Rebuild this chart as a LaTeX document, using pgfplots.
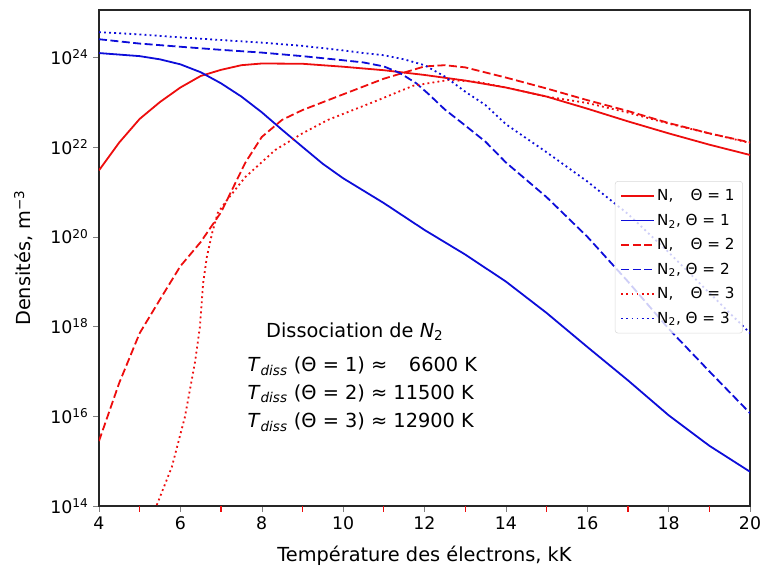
\documentclass[border=0pt]{standalone}
\usepackage{fontspec}
\setmainfont{DejaVu Sans}
\usepackage{pgfplots}
\pgfplotsset{compat=1.18}
\definecolor{mplred}{rgb}{0.93,0.05,0.05}
\definecolor{mplblue}{rgb}{0.05,0.05,0.85}
\begin{document}
\begin{tikzpicture}
\useasboundingbox (-74.25pt,-46.5pt) rectangle (498.75pt,379.5pt);
\begin{axis}[
  scale only axis, width=488.25pt, height=372pt,
  xmin=4, xmax=20, ymode=log, ymin=1e14, ymax=1.12e25,
  xtick={4,6,...,20},
  ytick={1e14,1e16,1e18,1e20,1e22,1e24},
  yticklabels={10\textsuperscript{14},10\textsuperscript{16},10\textsuperscript{18},10\textsuperscript{20},10\textsuperscript{22},10\textsuperscript{24}},
  yminorticks=false,
  extra x ticks={5,7,...,19},
  extra x tick labels={},
  extra x tick style={tick style={draw=mplred, line width=1pt}},
  tick align=outside, xtick pos=bottom, ytick pos=left,
  major tick length=4.3pt,
  axis line style={black!85, line width=0.9pt},
  /pgf/number format/assume math mode=true,
  tick label style={font=\fontsize{13}{15}\selectfont},
  label style={font=\fontsize{14.5}{16}\selectfont},
  xlabel={Température des électrons, kK},
  ylabel={Densités, m\textsuperscript{−3}},
  xlabel style={yshift=3pt},
  ylabel style={yshift=6pt},
  legend style={at={(0.989,0.655)}, anchor=north east,
    draw=black!15, rounded corners=2pt, fill=white, fill opacity=0.8, text opacity=1,
    font=\fontsize{11.4}{13}\selectfont, row sep=4.4pt, inner sep=4pt},
  legend cell align=left,
  legend image code/.code={\draw[#1, line width=1.35pt, draw opacity=1] (0cm,0cm) -- (0.85cm,0cm);},
  every axis plot/.append style={line width=1.35pt, line join=round},
]
% N, Theta = 1
\addplot[mplred, solid] coordinates {
(4,3.0e21) (4.5,1.26e22) (5,4.2e22) (5.5,1.0e23) (6,2.1e23) (6.5,3.8e23) (7,5.2e23) (7.5,6.6e23)
(8,7.2e23) (9,7.1e23) (10,6.1e23) (11,5.1e23) (12,4.0e23) (13,3.0e23) (14,2.1e23) (15,1.32e23)
(16,7.1e22) (17,3.7e22) (18,2.0e22) (19,1.12e22) (20,6.6e21)};
\addlegendentry{N,\hphantom{\textsubscript{2}}\ \ Θ = 1}
% N2, Theta = 1
\addplot[mplblue, solid] coordinates {
(4,1.23e24) (5,1.05e24) (5.5,8.9e23) (6,6.9e23) (6.5,4.6e23) (7,2.6e23) (7.5,1.32e23) (8,5.9e22)
(8.5,2.4e22) (9,1.0e22) (9.5,4.2e21) (10,2.0e21) (11,5.6e20) (12,1.41e20) (13,4.0e19) (14,1.0e19)
(15,2.0e18) (16,3.5e17) (17,6.3e16) (18,1.05e16) (19,2.2e15) (20,5.8e14)};
\addlegendentry{N\textsubscript{2}, Θ = 1}
% N, Theta = 2
\addplot[mplred, dash pattern=on 6pt off 2.6pt] coordinates {
(4,2.8e15) (4.5,5.6e16) (5,7.1e17) (5.5,4.0e18) (6,2.2e19) (6.5,7.6e19) (7,3.5e20) (7.3,1.26e21)
(7.6,4.5e21) (8,1.66e22) (8.5,4.0e22) (9,6.6e22) (10,1.48e23) (11,3.3e23) (12,6.2e23) (12.5,6.6e23)
(13,5.9e23) (14,3.5e23) (15,2.0e23) (16,1.1e23) (17,6.3e22) (18,3.4e22) (19,2.0e22) (20,1.26e22)};
\addlegendentry{N,\hphantom{\textsubscript{2}}\ \ Θ = 2}
% N2, Theta = 2
\addplot[mplblue, dash pattern=on 6pt off 2.6pt] coordinates {
(4,2.5e24) (5,2.0e24) (6,1.7e24) (7,1.45e24) (8,1.26e24) (9,1.05e24) (10,8.5e23) (10.5,7.6e23)
(11,6.2e23) (11.4,4.4e23) (11.8,2.6e23) (12.1,1.5e23) (12.5,6.8e22) (13,3.0e22) (13.5,1.3e22)
(14,4.5e21) (15,7.6e20) (16,1.0e20) (17,1.0e19) (18,8.9e17) (19,1.0e17) (20,1.17e16)};
\addlegendentry{N\textsubscript{2}, Θ = 2}
% N, Theta = 3
\addplot[mplred, dash pattern=on 1.4pt off 2.4pt] coordinates {
(5.42,1.05e14) (5.79,7.4e14) (6.11,9.5e15) (6.36,1.6e17) (6.48,9.8e17) (6.56,9.3e18) (6.65,3.5e19)
(6.78,1.2e20) (6.92,3.4e20) (7.15,6.6e20) (7.59,2.1e21) (8.33,8.5e21) (9,2.0e22) (9.63,4.0e22)
(10.86,1.1e23) (11.72,2.3e23) (12.6,3.1e23) (13.3,2.8e23) (14,2.1e23) (15,1.32e23) (16,9.5e22)
(17,5.8e22) (18,3.3e22) (19,2.0e22) (20,1.22e22)};
\addlegendentry{N,\hphantom{\textsubscript{2}}\ \ Θ = 3}
% N2, Theta = 3
\addplot[mplblue, dash pattern=on 1.4pt off 2.4pt] coordinates {
(4,3.6e24) (5,3.2e24) (6,2.75e24) (7,2.4e24) (8,2.1e24) (9,1.78e24) (10,1.41e24) (10.5,1.23e24)
(11,1.1e24) (11.5,8.9e23) (12,6.6e23) (12.5,3.7e23) (13,1.7e23) (13.5,8.5e22) (14,3.2e22)
(15,7.6e21) (16,1.7e21) (17,3.2e20) (18,4.5e19) (19,5.6e18) (20,7.1e17)};
\addlegendentry{N\textsubscript{2}, Θ = 3}
\node[anchor=center, font=\fontsize{14.5}{16}\selectfont] at (rel axis cs:0.393,0.351) {Dissociation de \textit{N}\textsubscript{2}};
\node[anchor=west, font=\fontsize{14.5}{16}\selectfont] at (rel axis cs:0.221,0.282) {\textit{T}\textsubscript{\textit{diss}} (Θ = 1) ≈ \hphantom{1}\,6600 K};
\node[anchor=west, font=\fontsize{14.5}{16}\selectfont] at (rel axis cs:0.221,0.226) {\textit{T}\textsubscript{\textit{diss}} (Θ = 2) ≈ 11500 K};
\node[anchor=west, font=\fontsize{14.5}{16}\selectfont] at (rel axis cs:0.221,0.169) {\textit{T}\textsubscript{\textit{diss}} (Θ = 3) ≈ 12900 K};
\end{axis}
\end{tikzpicture}
\end{document}
